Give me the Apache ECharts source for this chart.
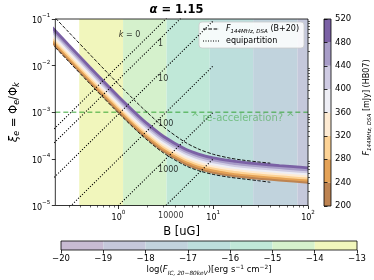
<!DOCTYPE html>
<html><head><meta charset="utf-8">
<script src="https://cdn.jsdelivr.net/npm/echarts@6/dist/echarts.min.js"></script>
<style>html,body{margin:0;padding:0;background:#fff}#c{width:374px;height:280px}</style>
</head><body><div id="c"></div>
<script>
// ---------------- data ----------------
const B_grid = [0.2,0.3,0.5,0.7,1,1.5,2,3,5,7,10,15,20,30,50,70,100];
const F_values = [220,260,300,340,380,420,460,500];
const xi_F220 = [0.03212,0.01347,4.537e-3,2.233e-3,1.0691e-3,4.798e-4,2.832e-4,1.480e-4,8.082e-5,6.211e-5,5.146e-5,4.471e-5,4.157e-5,3.828e-5,3.506e-5,3.322e-5,3.144e-5];
const xi_F260 = [0.03557,0.01492,5.023e-3,2.473e-3,1.1838e-3,5.313e-4,3.136e-4,1.639e-4,8.949e-5,6.878e-5,5.698e-5,4.951e-5,4.603e-5,4.238e-5,3.882e-5,3.679e-5,3.481e-5];
const xi_F300 = [0.03938,0.01651,5.562e-3,2.738e-3,1.3108e-3,5.882e-4,3.473e-4,1.814e-4,9.909e-5,7.615e-5,6.309e-5,5.481e-5,5.097e-5,4.693e-5,4.299e-5,4.073e-5,3.855e-5];
const xi_F340 = [0.04361,0.01829,6.159e-3,3.032e-3,1.4515e-3,6.514e-4,3.845e-4,2.009e-4,1.0972e-4,8.433e-5,6.987e-5,6.070e-5,5.644e-5,5.197e-5,4.760e-5,4.511e-5,4.269e-5];
const xi_F380 = [0.04829,0.02025,6.821e-3,3.358e-3,1.6075e-3,7.214e-4,4.259e-4,2.225e-4,1.2152e-4,9.339e-5,7.737e-5,6.722e-5,6.250e-5,5.755e-5,5.272e-5,4.995e-5,4.727e-5];
const xi_F420 = [0.05349,0.02243,7.554e-3,3.719e-3,1.7803e-3,7.990e-4,4.717e-4,2.464e-4,1.3458e-4,1.0343e-4,8.569e-5,7.445e-5,6.922e-5,6.374e-5,5.839e-5,5.532e-5,5.236e-5];
const xi_F460 = [0.05923,0.02484,8.366e-3,4.118e-3,1.9715e-3,8.848e-4,5.223e-4,2.729e-4,1.4903e-4,1.1454e-4,9.490e-5,8.244e-5,7.666e-5,7.059e-5,6.466e-5,6.127e-5,5.798e-5];
const xi_F500 = [0.06562,0.02752,9.268e-3,4.562e-3,2.1841e-3,9.802e-4,5.786e-4,3.023e-4,1.6511e-4,1.2689e-4,1.0513e-4,9.133e-5,8.492e-5,7.820e-5,7.163e-5,6.787e-5,6.423e-5];

// F_144MHz,DSA (B+20) curves
const dsa_B = [0.2,0.3,0.5,0.7,1,1.5,2,3,5,7,10,15,20,30,40];
const dsa_upper = [0.1238,0.05186,0.01739,8.508e-3,4.022e-3,1.755e-3,1.000e-3,4.836e-4,2.310e-4,1.628e-4,1.257e-4,1.039e-4,9.469e-5,8.588e-5,8.115e-5];
const dsa_lower = [0.02895,0.01214,4.089e-3,2.013e-3,9.636e-4,4.324e-4,2.553e-4,1.334e-4,7.284e-5,5.598e-5,4.638e-5,4.029e-5,3.747e-5,3.40e-5,3.15e-5];

// equipartition lines (k values), endpoints
const eq_B = [0.2, 10];
const eq_k0 = [4.0e-4, 1.0];
const eq_k1 = [2.0e-4, 0.5];
const eq_k10 = [3.64e-5, 0.0909];
const eq_k100 = [3.96e-6, 0.0099];
const eq_k1000 = [4.0e-7, 1.0e-3];
const eq_k10000 = [4.0e-8, 1.0e-4];
const eq_label_text = ['1','10','100','1000','10000'];
const eq_label_B = [2.62,2.62,2.62,2.62,2.62];
const eq_label_xi = [0.0295,5.24e-3,5.66e-4,5.66e-5,5.93e-6];
const k0_label_B = 1.7, k0_label_xi = 0.0447;

// re-acceleration threshold
const reacc_xi = 1e-3;
const reacc_label_B = 20.5, reacc_label_xi = 7.24e-4;

// IC flux bands (log F_IC bins) as function of B
const ic_edges_B = [0.386, 1.12, 3.22, 9.2, 26.4, 77.3, 100];
const ic_band_bin = [6,5,4,3,2,1];   // index into ic_bins
const ic_bins = [[-20,-19],[-19,-18],[-18,-17],[-17,-16],[-16,-15],[-15,-14],[-14,-13]];
const f_bins = [[200,240],[240,280],[280,320],[320,360],[360,400],[400,440],[440,480],[480,520]];

const x_major = [1,10,100];
const x_minor = [0.3,0.4,0.5,0.6,0.7,0.8,0.9,2,3,4,5,6,7,8,9,20,30,40,50,60,70,80,90];
const y_major = [1e-5,1e-4,1e-3,1e-2,1e-1];
const y_minor = [];
[1e-5,1e-4,1e-3,1e-2].forEach(d=>{for(let m=2;m<=9;m++) y_minor.push(+(m*d).toPrecision(3));});

// ---------------- styles ----------------
const FONT = 'DejaVu Sans';
const GREEN = 'rgba(44,160,44,0.62)';
const icColors = ['#c8bbd3','#c5c8db','#c1d3dd','#bcdedc','#c0e8d8','#d5f1cc','#f1f6bc'];
const fColors = ['#bd8351','#e4a257','#fdd396','#feebd3','#eeeef5','#cfcbe3','#a89dc8','#7b61a5'];
const fSeries = [xi_F220,xi_F260,xi_F300,xi_F340,xi_F380,xi_F420,xi_F460,xi_F500];
const pairs = (xs, ys) => xs.map((x,i)=>[x, ys[i]]);
const supRich = {
  b:{fontSize:8,fontFamily:FONT,color:'#000',lineHeight:12,verticalAlign:'bottom'},
  s:{fontSize:5.6,fontFamily:FONT,color:'#000',lineHeight:12,verticalAlign:'top'}
};
const logFmt = v => { const e = Math.round(Math.log10(v)); return '{b|10}{s|' + String(e).replace('-','\u2212') + '}'; };

const series = [];
// background bands via markArea
series.push({
  type:'line', xAxisIndex:0, yAxisIndex:0, data:[], silent:true, z:0,
  markArea:{silent:true, data: ic_band_bin.map((bi,i)=>[
    {xAxis: ic_edges_B[i], itemStyle:{color: icColors[bi]}}, {xAxis: ic_edges_B[i+1]}
  ])}
});
// re-acceleration line
series.push({type:'line', xAxisIndex:0, yAxisIndex:0, data:[[0.216,reacc_xi],[100,reacc_xi]], symbol:'none', z:1,
  lineStyle:{color:GREEN, width:1.5, type:[5,3]}, silent:true});
// flux band lines
fSeries.forEach((arr,i)=>{
  series.push({type:'line', name:'F'+F_values[i], xAxisIndex:0, yAxisIndex:0, data:pairs(B_grid, arr),
    symbol:'none', smooth:0.3, z:3, lineStyle:{color:fColors[i], width:2.8}, silent:true});
});
// DSA dashed curves
[dsa_upper, dsa_lower].forEach(arr=>{
  series.push({type:'line', name:'dsa', xAxisIndex:0, yAxisIndex:0, data:pairs(dsa_B, arr), symbol:'none', smooth:0.3, z:4,
    itemStyle:{color:'#000'}, lineStyle:{color:'#000', width:0.9, type:[3.5,1.6]}, silent:true});
});
// equipartition dotted lines
[eq_k0,eq_k1,eq_k10,eq_k100,eq_k1000,eq_k10000].forEach(arr=>{
  series.push({type:'line', name:'equipartition', xAxisIndex:0, yAxisIndex:0, data:pairs(eq_B, arr), symbol:'none', z:5,
    itemStyle:{color:'#000'}, lineStyle:{color:'#000', width:1.1, type:[1.1,1.7]}, silent:true});
});
// labels
series.push({type:'scatter', xAxisIndex:0, yAxisIndex:0, symbolSize:0, clip:false, z:6, silent:true,
  data: eq_label_text.map((t,i)=>({value:[eq_label_B[i], eq_label_xi[i]], name:t})),
  label:{show:true, position:'inside', align:'left', verticalAlign:'middle', formatter:p=>p.name,
    fontFamily:FONT, fontSize:8, color:'#000'}});
series.push({type:'scatter', xAxisIndex:0, yAxisIndex:0, symbolSize:0, clip:false, z:6, silent:true,
  data:[{value:[k0_label_B,k0_label_xi], name:'k0'}],
  label:{show:true, position:'inside', align:'right', verticalAlign:'middle', formatter:'{i|k} = 0',
    rich:{i:{fontStyle:'italic',fontFamily:FONT,fontSize:8,color:'#000'}}, fontFamily:FONT, fontSize:8, color:'#000'}});
series.push({type:'scatter', xAxisIndex:0, yAxisIndex:0, symbolSize:0, clip:false, z:6, silent:true,
  data:[{value:[reacc_label_B,reacc_label_xi], name:'r'}],
  label:{show:true, position:'inside', align:'center', verticalAlign:'middle', formatter:'^ re-acceleration? ^',
    fontFamily:FONT, fontSize:10, color:GREEN}});
// colorbars
series.push({type:'custom', xAxisIndex:2, yAxisIndex:2, silent:true, z:2,
  data: f_bins.map((b,i)=>[b[0], b[1], i]),
  renderItem:(params, api)=>{
    const p0 = api.coord([0, api.value(0)]), p1 = api.coord([1, api.value(1)]);
    return {type:'rect', shape:{x:p0[0], y:p1[1], width:p1[0]-p0[0], height:p0[1]-p1[1]},
      style:{fill: fColors[api.value(2)]}};
  }});
series.push({type:'custom', xAxisIndex:3, yAxisIndex:3, silent:true, z:2,
  data: ic_bins.map((b,i)=>[b[0], b[1], i]),
  renderItem:(params, api)=>{
    const p0 = api.coord([api.value(0), 0]), p1 = api.coord([api.value(1), 1]);
    return {type:'rect', shape:{x:p0[0], y:p1[1], width:p1[0]-p0[0], height:p0[1]-p1[1]},
      style:{fill: icColors[api.value(2)]}};
  }});

const tickStyle = {color:'#000', width:0.8};
const option = {
  animation:false,
  backgroundColor:'#fff',
  textStyle:{fontFamily:FONT},
  graphic:[{type:'text', x:176.5, y:10, z:10,
    style:{text:'{i|\u03b1} = 1.15', align:'center', verticalAlign:'middle', fontFamily:FONT, fontSize:11.5, fontWeight:'bold', fill:'#000',
      rich:{i:{fontStyle:'italic', fontFamily:FONT, fontSize:11.5, fontWeight:'bold'}}}}],
  legend:{
    orient:'vertical', left:199, top:22, padding:[3,5,3,4], itemGap:2.5, itemWidth:16, itemHeight:1.2,
    backgroundColor:'rgba(255,255,255,0.85)', borderColor:'#cccccc', borderWidth:0.8, borderRadius:3,
    data:[
      {name:'dsa', icon:'path://M0,0h3.7v1h-3.7z M5.3,0h3.7v1h-3.7z M10.6,0h3.7v1h-3.7z M15.9,0h0.1v1h-0.1z'},
      {name:'equipartition', icon:'path://M0,0h1v1h-1z M2.5,0h1v1h-1z M5,0h1v1h-1z M7.5,0h1v1h-1z M10,0h1v1h-1z M12.5,0h1v1h-1z M15,0h1v1h-1z'}
    ],
    formatter: n => n==='dsa' ? '{i|F}{s|144MHz, DSA} (B+20)' : 'equipartition',
    textStyle:{fontFamily:FONT, fontSize:8, color:'#000', padding:[0,0,0,2],
      rich:{i:{fontStyle:'italic',fontFamily:FONT,fontSize:8,lineHeight:11,verticalAlign:'middle'},
            s:{fontStyle:'italic',fontFamily:FONT,fontSize:5.5,lineHeight:11,verticalAlign:'bottom'}}}
  },
  grid:[
    {left:45, top:19, width:263, height:186.5, show:true, borderColor:'#000', borderWidth:0.8, backgroundColor:'transparent', z:8},
    {left:324, top:19, width:10, height:187, show:true, borderColor:'#000', borderWidth:0.8, backgroundColor:'transparent', z:8},
    {left:61, top:241, width:296, height:9, show:true, borderColor:'#000', borderWidth:0.8, backgroundColor:'transparent', z:8}
  ],
  xAxis:[
    {type:'log', gridIndex:0, min:0.216, max:100, position:'bottom', z:9,
      axisLine:{show:false}, splitLine:{show:false},
      axisTick:{show:true, customValues:x_major, length:3.5, lineStyle:tickStyle},
      axisLabel:{customValues:x_major, formatter:logFmt, margin:4, rich:supRich},
      name:'B [uG]', nameLocation:'middle', nameGap:16, nameTextStyle:{fontFamily:FONT, fontSize:11.5, color:'#000'}},
    {type:'log', gridIndex:0, min:0.216, max:100, position:'bottom', z:9,
      axisLine:{show:false}, splitLine:{show:false}, axisLabel:{show:false},
      axisTick:{show:true, customValues:x_minor, length:2, lineStyle:{color:'#000', width:0.6}}},
    {type:'value', gridIndex:1, min:0, max:1, show:false},
    {type:'value', gridIndex:2, min:-20, max:-13, interval:1, position:'bottom', z:9,
      axisLine:{show:false}, splitLine:{show:false},
      axisTick:{length:3.5, lineStyle:tickStyle},
      axisLabel:{formatter:v=>String(v).replace('-','\u2212'), fontFamily:FONT, fontSize:8.5, color:'#000', margin:4},
      name:'{t|log(}{i|F}{s|IC, 20\u221280keV}{t|)[erg s}{p|\u22121}{t| cm}{p|\u22122}{t|]}', nameLocation:'middle', nameGap:14,
      nameTextStyle:{fontFamily:FONT, fontSize:8.5, color:'#000', rich:{
        t:{fontFamily:FONT,fontSize:8.5,lineHeight:12,verticalAlign:'middle'},
        i:{fontFamily:FONT,fontSize:8.5,fontStyle:'italic',lineHeight:12,verticalAlign:'middle'},
        s:{fontFamily:FONT,fontSize:5.8,fontStyle:'italic',lineHeight:12,verticalAlign:'bottom'},
        p:{fontFamily:FONT,fontSize:5.8,lineHeight:12,verticalAlign:'top'}}}}
  ],
  yAxis:[
    {type:'log', gridIndex:0, min:1e-5, max:0.1, z:9,
      axisLine:{show:false}, splitLine:{show:false},
      axisTick:{show:true, customValues:y_major, length:3.5, lineStyle:tickStyle},
      axisLabel:{customValues:y_major, formatter:logFmt, margin:5, rich:supRich},
      name:'{x|\u03be}{s|e}{t| = \u03a6}{s|e}{t|/\u03a6}{s|k}', nameLocation:'middle', nameGap:29,
      nameTextStyle:{color:'#000', rich:{
        x:{fontFamily:FONT,fontSize:11.5,fontStyle:'italic',lineHeight:14,verticalAlign:'middle'},
        t:{fontFamily:FONT,fontSize:11.5,lineHeight:14,verticalAlign:'middle'},
        s:{fontFamily:FONT,fontSize:8,fontStyle:'italic',lineHeight:14,verticalAlign:'bottom'}}}},
    {type:'log', gridIndex:0, min:1e-5, max:0.1, z:9,
      axisLine:{show:false}, splitLine:{show:false}, axisLabel:{show:false},
      axisTick:{show:true, customValues:y_minor, length:2, lineStyle:{color:'#000', width:0.6}}},
    {type:'value', gridIndex:1, min:200, max:520, interval:40, position:'right', z:9,
      axisLine:{show:false}, splitLine:{show:false},
      axisTick:{length:3.5, lineStyle:tickStyle},
      axisLabel:{fontFamily:FONT, fontSize:8.5, color:'#000', margin:4},
      name:'{i|F}{s|144MHz, DSA}{t| [mJy] (HB07)}', nameLocation:'middle', nameGap:30,
      nameTextStyle:{color:'#000', padding:[0,0,0,10], rich:{
        i:{fontFamily:FONT,fontSize:8,fontStyle:'italic',lineHeight:12,verticalAlign:'middle'},
        s:{fontFamily:FONT,fontSize:5.5,fontStyle:'italic',lineHeight:12,verticalAlign:'bottom'},
        t:{fontFamily:FONT,fontSize:8,lineHeight:12,verticalAlign:'middle'}}}},
    {type:'value', gridIndex:2, min:0, max:1, show:false}
  ],
  series: series
};
const chart = echarts.init(document.getElementById('c'), null, {renderer:'canvas', width:374, height:280});
chart.setOption(option);
</script></body></html>
